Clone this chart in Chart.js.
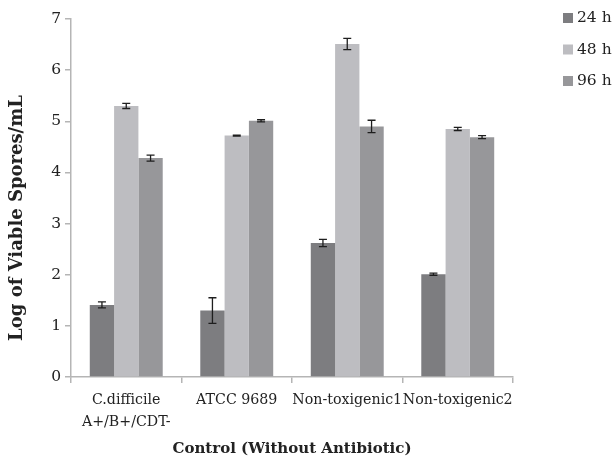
<!DOCTYPE html>
<html>
<head>
<meta charset="utf-8">
<script src="https://cdn.jsdelivr.net/npm/chart.js@4"></script>
<style>
  html, body { margin: 0; padding: 0; background: #fff; }
  #wrap { width: 613px; height: 458px; position: relative; }
</style>
</head>
<body>
<div id="wrap"><canvas id="chart"></canvas></div>
<script>
const categories = [['C.difficile', 'A+/B+/CDT-'], 'ATCC 9689', 'Non-toxigenic1', 'Non-toxigenic2'];
const seriesNames = ['24 h', '48 h', '96 h'];
const values24 = [1.41, 1.30, 2.62, 2.01];
const values48 = [5.30, 4.72, 6.51, 4.85];
const values96 = [4.28, 5.01, 4.90, 4.69];
const err24 = [0.06, 0.25, 0.07, 0.02];
const err48 = [0.05, 0.01, 0.11, 0.03];
const err96 = [0.06, 0.02, 0.12, 0.03];
const yTicks = [0, 1, 2, 3, 4, 5, 6, 7];
const colors = ['#7d7d80', '#bdbdc1', '#97979a'];
const yTitle = 'Log of Viable Spores/mL';

const fontFamily = '"DejaVu Serif", serif';

// error bars drawn through the y scale
const errorBars = {
  id: 'errorBars',
  afterDatasetsDraw(chart) {
    const ctx = chart.ctx;
    const y = chart.scales.y;
    ctx.save();
    ctx.strokeStyle = '#1e1e1e';
    ctx.lineWidth = 1.3;
    chart.data.datasets.forEach((ds, i) => {
      const meta = chart.getDatasetMeta(i);
      meta.data.forEach((bar, j) => {
        const v = ds.data[j], e = ds.errors[j];
        const top = y.getPixelForValue(v + e);
        const bot = y.getPixelForValue(v - e);
        const x = bar.x;
        ctx.beginPath();
        ctx.moveTo(x, top); ctx.lineTo(x, bot);
        ctx.moveTo(x - 4, top); ctx.lineTo(x + 4, top);
        ctx.moveTo(x - 4, bot); ctx.lineTo(x + 4, bot);
        ctx.stroke();
      });
    });
    ctx.restore();
  }
};

// legend top right + y title (sits a bit lower than the axis middle)
const sideLegend = {
  id: 'sideLegend',
  afterDraw(chart) {
    const ctx = chart.ctx;
    ctx.save();
    ctx.font = '15.5px ' + fontFamily;
    ctx.textBaseline = 'middle';
    chart.data.datasets.forEach((ds, i) => {
      const cy = 18 + i * 31.5;
      ctx.fillStyle = ds.backgroundColor;
      ctx.fillRect(563, cy - 5, 10, 10);
      ctx.fillStyle = '#222';
      ctx.fillText(ds.label, 577, cy);
    });
    ctx.translate(17, 218);
    ctx.rotate(-Math.PI / 2);
    ctx.textAlign = 'center';
    ctx.font = 'bold 18px ' + fontFamily;
    ctx.fillText(yTitle, 0, 0);
    ctx.restore();
  }
};

const ctx = document.getElementById('chart').getContext('2d');
const chart = new Chart(ctx, {
  type: 'bar',
  data: {
    labels: categories,
    datasets: [
      { label: seriesNames[0], data: values24, errors: err24, backgroundColor: colors[0] },
      { label: seriesNames[1], data: values48, errors: err48, backgroundColor: colors[1] },
      { label: seriesNames[2], data: values96, errors: err96, backgroundColor: colors[2] }
    ]
  },
  options: {
    responsive: true,
    maintainAspectRatio: false,
    animation: false,
    categoryPercentage: 0.66,
    barPercentage: 1.0,
    layout: { padding: { top: 19, right: 100, left: 0, bottom: 0 } },
    plugins: {
      legend: { display: false },
      tooltip: { enabled: false }
    },
    scales: {
      x: {
        grid: {
          offset: true,
          drawOnChartArea: false,
          drawTicks: true,
          tickLength: 6,
          color: '#b5b5b5',
          lineWidth: 1.5
        },
        border: { color: '#b5b5b5', width: 1.5 },
        ticks: {
          color: '#222',
          font: { family: fontFamily, size: 14.2, lineHeight: 1.55 },
          padding: 6,
          maxRotation: 0,
          autoSkip: false
        },
        title: {
          display: true,
          text: 'Control (Without Antibiotic)',
          color: '#222',
          font: { family: fontFamily, size: 15, weight: 'bold' },
          padding: { top: 0, bottom: 0 }
        },
        afterFit(scale) { scale.height = 81; }
      },
      y: {
        min: 0,
        max: 7,
        afterBuildTicks(scale) { scale.ticks = yTicks.map(v => ({ value: v })); },
        grid: {
          drawOnChartArea: false,
          drawTicks: true,
          tickLength: 6,
          color: '#b5b5b5',
          lineWidth: 1.5
        },
        border: { color: '#b5b5b5', width: 1.5 },
        ticks: {
          color: '#222',
          font: { family: fontFamily, size: 15.5 },
          padding: 4
        },
        afterFit(scale) { scale.width = 71; }
      }
    }
  },
  plugins: [errorBars, sideLegend]
});
</script>
</body>
</html>
